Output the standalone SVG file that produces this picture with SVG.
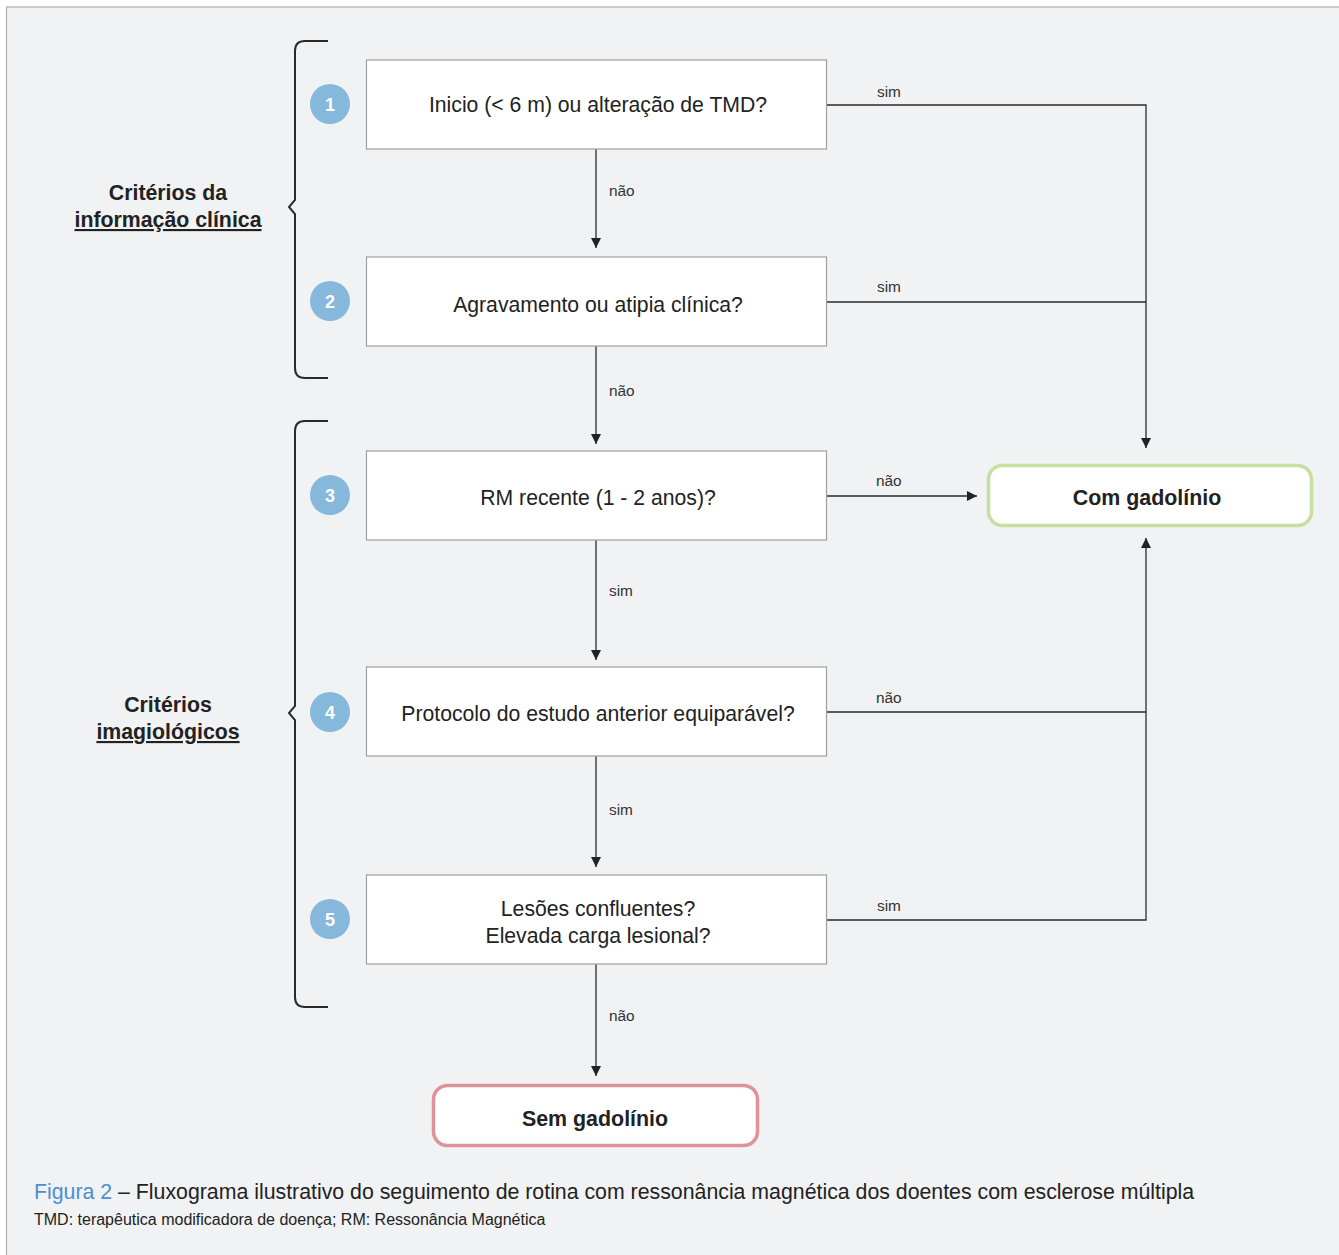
<svg xmlns="http://www.w3.org/2000/svg" width="1339" height="1255" viewBox="0 0 1339 1255">
<defs>
<marker id="ah" viewBox="0 0 10 10" refX="10" refY="5" markerWidth="10" markerHeight="10" markerUnits="userSpaceOnUse" orient="auto">
<path d="M0,0 L10,5 L0,10 z" fill="#222"/>
</marker>
<style>
.box{fill:#fff;stroke:#a0a0a0;stroke-width:1.2}
.bt{font-family:"Liberation Sans",Arial,sans-serif;font-size:21.2px;fill:#222;text-anchor:middle}
.lbl{font-family:"Liberation Sans",Arial,sans-serif;font-size:15.4px;fill:#333}
.num{fill:#86b8dc}
.nt{font-family:"Liberation Sans",Arial,sans-serif;font-size:18px;font-weight:bold;fill:#fff;text-anchor:middle}
.ln{fill:none;stroke:#2a2a2a;stroke-width:1.3}
.br{fill:none;stroke:#2a2a2a;stroke-width:2}
.side{font-family:"Liberation Sans",Arial,sans-serif;font-size:21.3px;font-weight:bold;fill:#222;text-anchor:middle}
.res{font-family:"Liberation Sans",Arial,sans-serif;font-size:21.4px;font-weight:bold;fill:#222;text-anchor:middle}
</style>
</defs>
<rect x="0" y="0" width="1339" height="1255" fill="#fff"/>
<rect x="6.5" y="7" width="1340" height="1260" fill="#f1f2f4" stroke="#b0b0b0" stroke-width="1.2"/>

<g id="braces">
<path class="br" d="M328,41 H305 Q295,41 295,51 V200 L289,207 L295,214 V368 Q295,378 305,378 H328"/>
<path class="br" d="M328,421 H305 Q295,421 295,431 V706 L289,713 L295,720 V997 Q295,1007 305,1007 H328"/>
</g>
<g id="group-labels">
<text class="side" x="168" y="200">Critérios da</text>
<text class="side" x="168" y="227" text-decoration="underline">informação clínica</text>
<text class="side" x="168" y="712">Critérios</text>
<text class="side" x="168" y="739" text-decoration="underline">imagiológicos</text>
</g>

<g id="connectors">
<line class="ln" x1="596" y1="149" x2="596" y2="248" marker-end="url(#ah)"/>
<line class="ln" x1="596" y1="346" x2="596" y2="444" marker-end="url(#ah)"/>
<line class="ln" x1="596" y1="540" x2="596" y2="660" marker-end="url(#ah)"/>
<line class="ln" x1="596" y1="756" x2="596" y2="867" marker-end="url(#ah)"/>
<line class="ln" x1="596" y1="964" x2="596" y2="1076" marker-end="url(#ah)"/>
<polyline class="ln" points="826,105 1146,105 1146,448" marker-end="url(#ah)"/>
<line class="ln" x1="826" y1="302" x2="1146" y2="302"/>
<line class="ln" x1="826" y1="496" x2="977" y2="496" marker-end="url(#ah)"/>
<line class="ln" x1="826" y1="712" x2="1146" y2="712"/>
<polyline class="ln" points="826,920 1146,920 1146,538" marker-end="url(#ah)"/>
<text class="lbl" x="609" y="196">não</text>
<text class="lbl" x="609" y="396">não</text>
<text class="lbl" x="609" y="596">sim</text>
<text class="lbl" x="609" y="815">sim</text>
<text class="lbl" x="609" y="1021">não</text>
<text class="lbl" x="877" y="97">sim</text>
<text class="lbl" x="877" y="292">sim</text>
<text class="lbl" x="876" y="486">não</text>
<text class="lbl" x="876" y="703">não</text>
<text class="lbl" x="877" y="911">sim</text>
</g>

<g id="node1">
<rect class="box" x="366.5" y="60" width="460" height="89"/>
<text class="bt" x="598" y="112">Inicio (&lt; 6 m) ou alteração de TMD?</text>
<circle class="num" cx="330" cy="104" r="20"/>
<text class="nt" x="330" y="110.5">1</text>
</g>
<g id="node2">
<rect class="box" x="366.5" y="257" width="460" height="89"/>
<text class="bt" x="598" y="312">Agravamento ou atipia clínica?</text>
<circle class="num" cx="330" cy="301" r="20"/>
<text class="nt" x="330" y="307.5">2</text>
</g>
<g id="node3">
<rect class="box" x="366.5" y="451" width="460" height="89"/>
<text class="bt" x="598" y="505">RM recente (1 - 2 anos)?</text>
<circle class="num" cx="330" cy="495" r="20"/>
<text class="nt" x="330" y="501.5">3</text>
</g>
<g id="node4">
<rect class="box" x="366.5" y="667" width="460" height="89"/>
<text class="bt" x="598" y="721">Protocolo do estudo anterior equiparável?</text>
<circle class="num" cx="330" cy="712" r="20"/>
<text class="nt" x="330" y="718.5">4</text>
</g>
<g id="node5">
<rect class="box" x="366.5" y="875" width="460" height="89"/>
<text class="bt" x="598" y="916">Lesões confluentes?</text>
<text class="bt" x="598" y="943">Elevada carga lesional?</text>
<circle class="num" cx="330" cy="919" r="20"/>
<text class="nt" x="330" y="925.5">5</text>
</g>
<g id="com-gadolinio">
<rect x="988.5" y="465.5" width="323" height="60" rx="14" fill="#fff" stroke="#c6e0a0" stroke-width="3.5"/>
<text class="res" x="1147" y="505">Com gadolínio</text>
</g>
<g id="sem-gadolinio">
<rect x="433.5" y="1085.5" width="324" height="60" rx="14" fill="#fff" stroke="#de939a" stroke-width="3.5"/>
<text class="res" x="595" y="1126">Sem gadolínio</text>
</g>

<g id="caption">
<text x="34" y="1199" font-family="Liberation Sans, Arial, sans-serif" font-size="21.3" fill="#222"><tspan fill="#4a90d2">Figura 2</tspan> – Fluxograma ilustrativo do seguimento de rotina com ressonância magnética dos doentes com esclerose múltipla</text>
<text x="34" y="1225" font-family="Liberation Sans, Arial, sans-serif" font-size="16" fill="#222">TMD: terapêutica modificadora de doença; RM: Ressonância Magnética</text>
</g>
</svg>
